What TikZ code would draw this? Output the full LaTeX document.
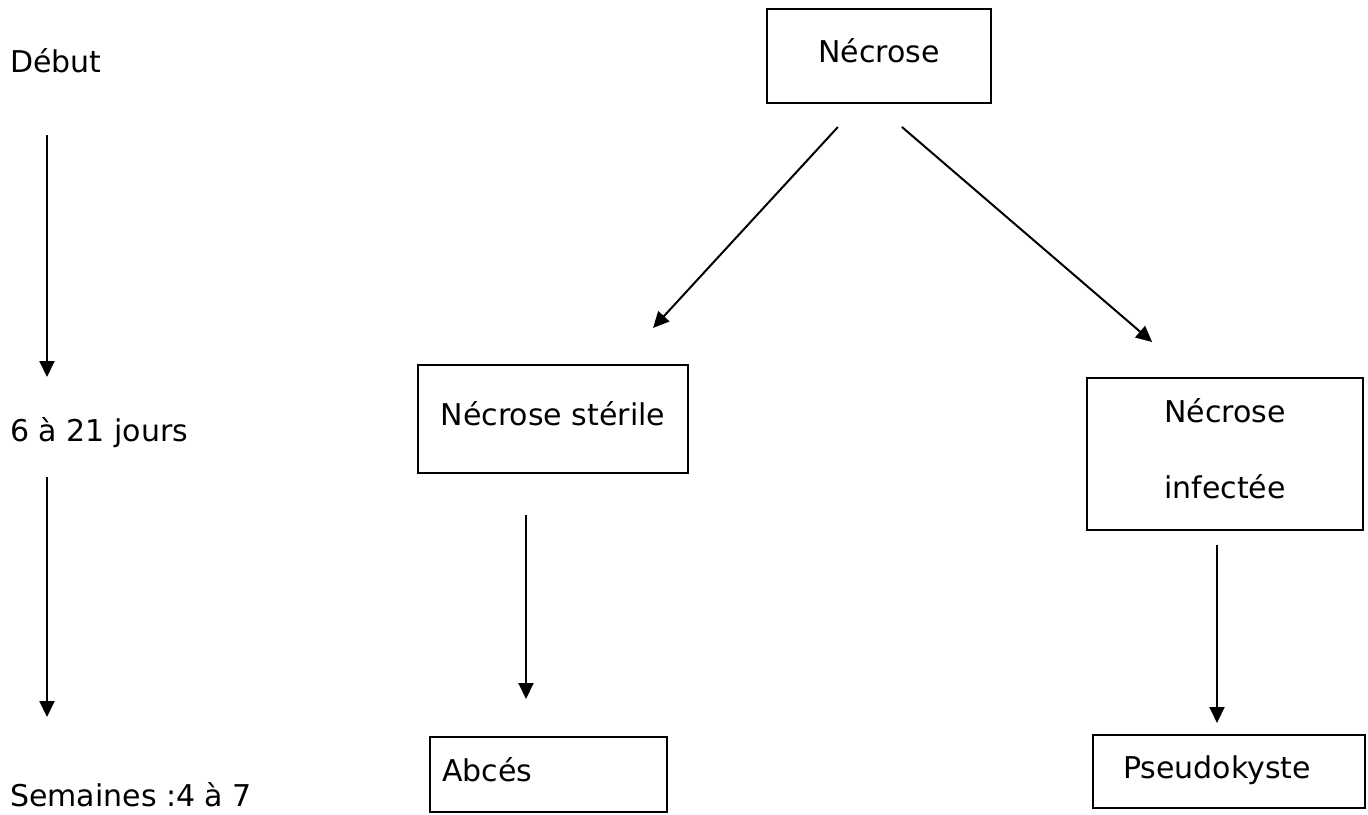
\documentclass[tikz,border=0pt]{standalone}
\usepackage{fontspec}
\setmainfont{DejaVu Sans}
\usepackage{tikz}
\usetikzlibrary{arrows.meta,
                positioning}

\begin{document}
\begin{tikzpicture}[x=1pt, y=-1pt, font=\fontsize{30}{36}\selectfont,
    >={Triangle[length=16pt, width=15pt]}]

\useasboundingbox (0,0) rectangle (1368,814);

%\draw[thin] (0,0) rectangle (1368,814);

\begin{scope}[ lbl/.style = {inner sep=0pt, anchor=base west}]
    \node[lbl] (6) at (10, 72) {Début};
    \node[lbl] (7) at (10, 441) {6 à 21 jours};
    \node[lbl] (8) at (10, 806) {Semaines :4 à 7};
\end{scope}

\begin{scope}[ res/.style = {rectangle, draw, line width=2.8pt, outer sep=0pt, text height=22pt, text depth=9pt}]
    \node[res, minimum width=224pt, minimum height=94pt] (1) at (879, 56) {Nécrose};
    \node[res, minimum width=270pt, minimum height=108pt] (2) at (553, 419) {Nécrose stérile};
    \node[res, minimum width=276pt, minimum height=152pt, align=center, text height=98pt] (3) at (1225, 454) {Nécrose\\[40pt]infectée};
    \node[res, inner xsep=12pt, text width=213pt, align=left, minimum height=75pt] (4) at (548.5, 774.5) {Abcés};
    \node[res, inner xsep=30pt, text width=212pt, align=left, minimum height=73pt] (5) at (1229, 771.5) {Pseudokyste};
\end{scope}

\begin{scope}[line width=2pt]
    % time line
    \draw[->, shorten <=63pt, shorten >=64pt] ([xshift=37pt]6.base west) -- ([xshift=37pt]7.base west);
    \draw[->, shorten <=36pt, shorten >=89pt] ([xshift=37pt]7.base west) -- ([xshift=37pt]8.base west);

    \draw[->, shorten <=32.6pt, shorten >=50.3pt] ([xshift=-19pt]1.south) -- ([xshift=66pt]2.north);
    \draw[->, shorten <=36.8pt, shorten >=55.2pt] ([xshift=-5pt]1.south) -- ([xshift=-31pt]3.north);
    \draw[->, shorten <=42pt, shorten >=38pt] ([xshift=-27pt]2.south) -- ([xshift=-22.5pt]4.north);
    \draw[->, shorten <=15pt, shorten >=12pt] ([xshift=-8pt]3.south) -- ([xshift=-12pt]5.north);
\end{scope}

\end{tikzpicture}
\end{document}
